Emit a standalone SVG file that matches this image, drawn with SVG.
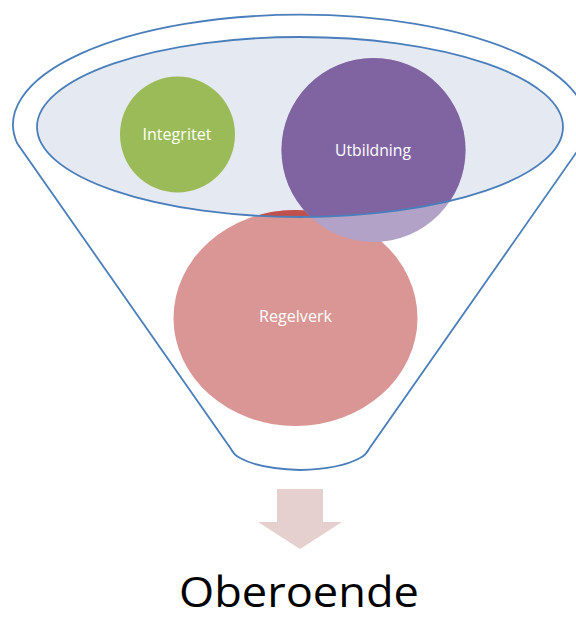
<svg xmlns="http://www.w3.org/2000/svg" width="576" height="619" viewBox="0 0 576 619">
<style>
.edge{fill:none;stroke:#4A7EBB;stroke-width:1.8}
.lbl{font-family:"Open Sans","Liberation Sans",sans-serif;fill:#FFFFFF;text-anchor:middle;font-size:16.5px}
</style>
<defs>
<clipPath id="inner"><ellipse cx="300" cy="127" rx="263" ry="90"/></clipPath>
</defs>
<g id="funnel">
<path class="edge" d="M17,143 A287,110 0 1 1 583,143 L369,449 Q366,455 360,458 Q340,469 300,470 Q260,469 240,458 Q234,455 231,449 Z" fill="#FFFFFF"/>
</g>
<g id="rim">
<ellipse cx="300" cy="128.5" rx="263" ry="90" fill="none" stroke="#FFFFFF" stroke-width="3" opacity="0.8"/>
<ellipse cx="300" cy="127" rx="263" ry="90" fill="#E4E9F2"/>
</g>
<g id="regelverk">
<ellipse cx="295.5" cy="318" rx="122" ry="108" fill="#D99694"/>
<ellipse cx="295.5" cy="318" rx="122" ry="108" fill="#C0504D" clip-path="url(#inner)"/>
<text class="lbl" x="295.5" y="322" textLength="73" lengthAdjust="spacingAndGlyphs">Regelverk</text>
</g>
<g id="utbildning">
<ellipse cx="373.5" cy="150" rx="92" ry="92" fill="#B2A2C7"/>
<ellipse cx="373.5" cy="150" rx="92" ry="92" fill="#8064A2" clip-path="url(#inner)"/>
<text class="lbl" x="373" y="156" textLength="76" lengthAdjust="spacingAndGlyphs">Utbildning</text>
</g>
<g id="integritet">
<ellipse cx="177.5" cy="134.5" rx="57.5" ry="58" fill="#9BBB59"/>
<text class="lbl" x="177" y="140" textLength="69" lengthAdjust="spacingAndGlyphs">Integritet</text>
</g>
<g id="rim-line">
<ellipse class="edge" cx="300" cy="127" rx="263" ry="90"/>
</g>
<g id="connectors">
<path d="M277,489 H323 V522 H342 L300,549 L258,522 H277 Z" fill="#E6CFCF"/>
</g>
<g id="oberoende">
<text x="299" y="607" font-family="'Open Sans','Liberation Sans',sans-serif" font-size="42" fill="#000000" text-anchor="middle" textLength="240" lengthAdjust="spacingAndGlyphs">Oberoende</text>
</g>
</svg>
